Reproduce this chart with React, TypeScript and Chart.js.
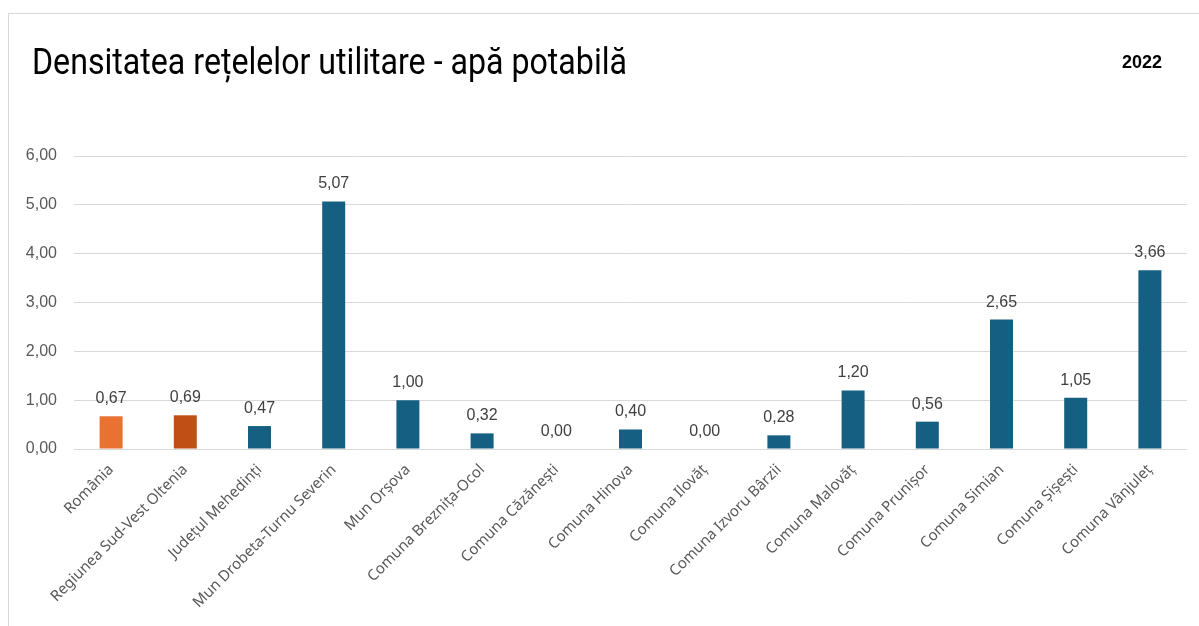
import React, { useEffect, useRef } from "react";
import { Chart, registerables } from "chart.js";

Chart.register(...registerables);

const TITLE = "Densitatea rețelelor utilitare - apă potabilă";
const YEAR = "2022";

const categories = [
  "România",
  "Regiunea Sud-Vest Oltenia",
  "Județul Mehedinți",
  "Mun Drobeta-Turnu Severin",
  "Mun Orșova",
  "Comuna Breznița-Ocol",
  "Comuna Căzănești",
  "Comuna Hinova",
  "Comuna Ilovăț",
  "Comuna Izvoru Bârzii",
  "Comuna Malovăț",
  "Comuna Prunișor",
  "Comuna Simian",
  "Comuna Șișești",
  "Comuna Vânjuleț",
];

const values = [0.67, 0.69, 0.47, 5.07, 1.0, 0.32, 0.0, 0.4, 0.0, 0.28, 1.2, 0.56, 2.65, 1.05, 3.66];

const barColors = [
  "#E97132",
  "#C04F15",
  "#156082",
  "#156082",
  "#156082",
  "#156082",
  "#156082",
  "#156082",
  "#156082",
  "#156082",
  "#156082",
  "#156082",
  "#156082",
  "#156082",
  "#156082",
];

const yTicks = [0, 1, 2, 3, 4, 5, 6];

const fmt = (v: number) => v.toFixed(2).replace(".", ",");

const decorPlugin = {
  id: "decor",
  afterDraw(chart: any) {
    const ctx = chart.ctx as CanvasRenderingContext2D;
    ctx.save();
    ctx.font = '36px "Roboto", sans-serif';
    ctx.fillStyle = "#000000";
    ctx.textBaseline = "alphabetic";
    ctx.textAlign = "left";
    const w = ctx.measureText(TITLE).width;
    const target = 595;
    ctx.translate(32, 74);
    ctx.scale(target / w, 1);
    ctx.fillText(TITLE, 0, 0);
    ctx.restore();

    ctx.save();
    ctx.font = 'bold 18px "Liberation Sans", Arial, sans-serif';
    ctx.fillStyle = "#000000";
    ctx.textAlign = "right";
    ctx.textBaseline = "alphabetic";
    ctx.fillText(YEAR, 1162, 68);
    ctx.restore();
  },
  afterDatasetsDraw(chart: any) {
    const ctx = chart.ctx as CanvasRenderingContext2D;
    const meta = chart.getDatasetMeta(0);
    const data = chart.data.datasets[0].data as number[];
    ctx.save();
    ctx.font = '16px "Liberation Sans", Arial, sans-serif';
    ctx.fillStyle = "#404040";
    ctx.textAlign = "center";
    ctx.textBaseline = "alphabetic";
    meta.data.forEach((el: any, i: number) => {
      ctx.fillText(fmt(data[i]), el.x, el.y - 13);
    });
    ctx.restore();
  },
};

export default function App() {
  const ref = useRef<HTMLCanvasElement | null>(null);
  useEffect(() => {
    if (!ref.current) return;
    const chart = new Chart(ref.current, {
      type: "bar",
      data: {
        labels: categories,
        datasets: [
          {
            data: values,
            backgroundColor: barColors,
            borderWidth: 0,
            categoryPercentage: 1,
            barPercentage: 0.31,
          },
        ],
      },
      options: {
        responsive: false,
        animation: false,
        devicePixelRatio: 1,
        layout: { padding: { top: 156, right: 12, left: 0, bottom: 0 } },
        plugins: {
          legend: { display: false },
          tooltip: { enabled: false },
          title: { display: false },
        },
        scales: {
          x: {
            grid: { display: false, drawTicks: false },
            border: { display: false },
            ticks: {
              minRotation: 45,
              maxRotation: 45,
              autoSkip: false,
              padding: 12,
              color: "#595959",
              font: { family: '"Noto Sans", sans-serif', size: 15 },
            },
            afterFit: (s: any) => {
              s.height = 177;
            },
          },
          y: {
            min: 0,
            max: 6,
            afterBuildTicks: (s: any) => {
              s.ticks = yTicks.map((v) => ({ value: v }));
            },
            ticks: {
              padding: 17,
              color: "#595959",
              font: { family: '"Liberation Sans", Arial, sans-serif', size: 16 },
              callback: (v: any) => fmt(Number(v)),
            },
            grid: { color: "#d9d9d9", drawTicks: false, lineWidth: 1 },
            border: { display: false },
            afterFit: (s: any) => {
              s.width = 74;
            },
          },
        },
      },
      plugins: [decorPlugin],
    });
    return () => chart.destroy();
  }, []);

  return (
    <div
      style={{
        position: "fixed",
        left: 0,
        top: 0,
        width: 1199,
        height: 626,
        background: "#ffffff",
        overflow: "hidden",
      }}
    >
      <div
        style={{
          position: "absolute",
          left: 8,
          top: 13,
          width: 1300,
          height: 800,
          borderTop: "1px solid #d9d9d9",
          borderLeft: "1px solid #d9d9d9",
        }}
      />
      <canvas
        ref={ref}
        width={1199}
        height={626}
        style={{ position: "absolute", left: 0, top: 0, width: 1199, height: 626 }}
      />
    </div>
  );
}
